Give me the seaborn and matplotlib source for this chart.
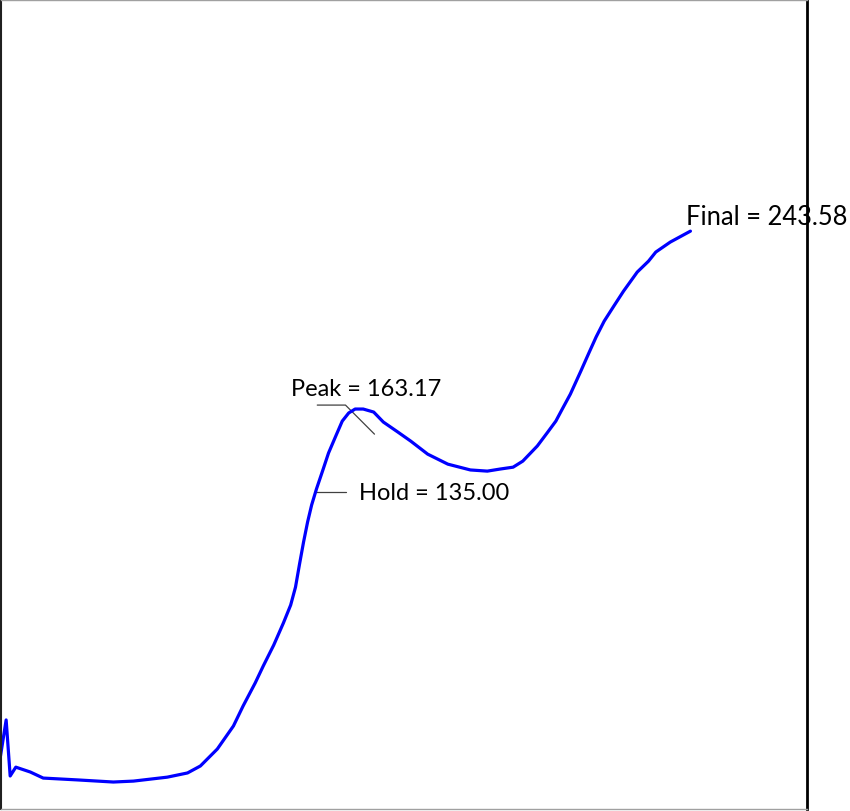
import pandas as pd
import matplotlib.pyplot as plt
import seaborn as sns

# curve (time in s, value)
time_s = [0.0, 0.7, 1.2, 1.9, 3.7, 5.3, 9.6, 14.0, 16.5, 20.7, 23.2, 24.8, 26.9, 28.9,
          30.1, 31.6, 32.6, 33.9, 35.1, 36.0, 36.6, 37.1, 37.6, 38.1, 38.6, 39.2, 40.0,
          40.7, 41.6, 42.4, 43.2, 44.0, 45.0, 46.3, 47.5, 49.3, 50.9, 53.0, 55.5,
          58.3, 60.4, 62.0, 63.6, 64.8, 66.6, 67.9, 68.9, 69.7, 70.7, 72.0, 73.0,
          73.9, 74.9, 76.1, 77.3, 79.0, 80.4, 81.3, 83.1, 85.6]
value = [16.8, 32.3, 8.2, 12.0, 9.9, 7.3, 6.5, 5.6, 6.0, 7.7, 9.5, 12.5, 19.8, 29.7,
         38.3, 48.2, 55.5, 64.5, 74.0, 81.7, 89.4, 99.3, 108.8, 117.4, 124.7, 131.6, 139.8,
         147.1, 154.4, 160.8, 164.3, 166.0, 166.0, 164.7, 160.4, 156.1, 152.2, 146.6, 142.3,
         139.8, 139.3, 140.2, 141.0, 143.6, 150.1, 156.1, 160.8, 166.0, 172.4, 182.3, 190.1,
         197.0, 203.8, 210.3, 216.7, 224.9, 229.6, 233.5, 237.8, 242.5]

labels = ["Peak = 163.17", "Hold = 135.00", "Final = 243.58"]

df = pd.DataFrame({"time": time_s, "value": value})

sns.set_style("white")
plt.rcParams["font.family"] = ["Lato", "DejaVu Sans"]

fig = plt.figure(figsize=(8.5, 8.12), dpi=100)
ax = fig.add_axes([0.5 / 850, 2 / 812, 806 / 850, 809 / 812])

sns.lineplot(data=df, x="time", y="value", sort=False, color="#0000ff",
             linewidth=2.3, ax=ax, zorder=2)

ax.set_xlim(0, 100)
ax.set_ylim(-6.0, 341.9)
ax.set_xticks([])
ax.set_yticks([])
ax.set_xlabel("")
ax.set_ylabel("")

# leader lines
lead = "#404040"
ax.plot([39.3, 42.8, 46.4], [167.7, 167.7, 155.2], color=lead, lw=0.9, zorder=1)
ax.plot([39.1, 42.9], [130.3, 130.3], color=lead, lw=0.9, zorder=1)

txt = dict(va="center", ha="left", color="black", clip_on=False, zorder=1)
ax.text(36.1, 175.0, labels[0], fontsize=17, **txt)
ax.text(44.5, 129.9, labels[1], fontsize=17, **txt)
ax.text(85.1, 249.0, labels[2], fontsize=18.4, **txt)

# frame
for side in ["top", "bottom"]:
    ax.spines[side].set_color("#a0a0a0")
    ax.spines[side].set_linewidth(1.0)
ax.spines["left"].set_color("#202020")
ax.spines["left"].set_linewidth(1.5)
ax.spines["right"].set_color("black")
ax.spines["right"].set_linewidth(2.0)
for s in ax.spines.values():
    s.set_zorder(5)

fig.savefig("out.png", dpi=100)
plt.close(fig)
